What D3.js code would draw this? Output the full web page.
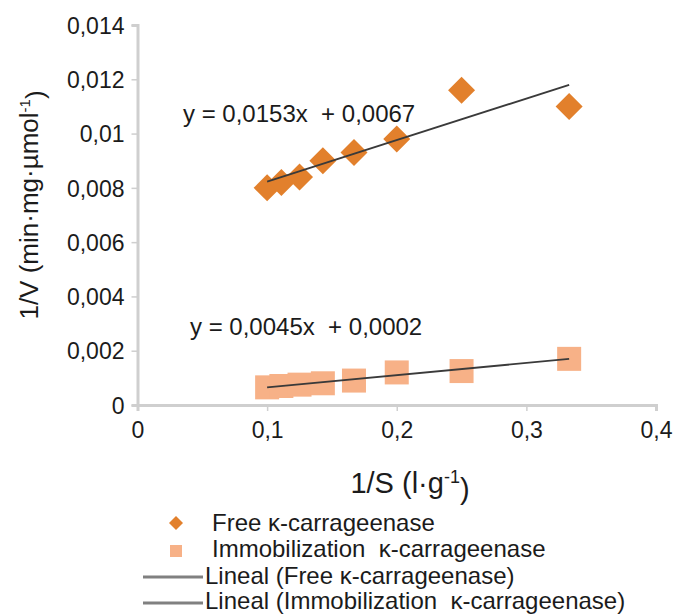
<!DOCTYPE html>
<html>
<head>
<meta charset="utf-8">
<script src="https://cdn.jsdelivr.net/npm/d3@7"></script>
<style>
  html, body { margin: 0; padding: 0; background: #fff; }
  svg { display: block; font-family: "Liberation Sans", Arial, sans-serif; }
</style>
</head>
<body>
<svg id="chart" width="675" height="614"></svg>
<script>
// ---- data ----
const invS = [0.1, 0.111, 0.125, 0.143, 0.167, 0.2, 0.25, 0.333];
const freeInvV = [0.0080, 0.0082, 0.0084, 0.0090, 0.0093, 0.0098, 0.0116, 0.0110];
const immobInvV = [0.00065, 0.0007, 0.00075, 0.0008, 0.0009, 0.0012, 0.00125, 0.0017];
const freeFit = { slope: 0.0153, intercept: 0.0067 };
const immobFit = { slope: 0.0045, intercept: 0.0002 };
const xTicks = [0, 0.1, 0.2, 0.3, 0.4];
const xTickLabels = ["0", "0,1", "0,2", "0,3", "0,4"];
const yTicks = [0, 0.002, 0.004, 0.006, 0.008, 0.01, 0.012, 0.014];
const yTickLabels = ["0", "0,002", "0,004", "0,006", "0,008", "0,01", "0,012", "0,014"];
const equations = ["y = 0,0153x  + 0,0067", "y = 0,0045x  + 0,0002"];
const legendLabels = ["Free \u03BA-carrageenase", "Immobilization  \u03BA-carrageenase",
  "Lineal (Free \u03BA-carrageenase)", "Lineal (Immobilization  \u03BA-carrageenase)"];

// ---- layout ----
const svg = d3.select("#chart");
const x = d3.scaleLinear().domain([0, 0.4]).range([137.5, 656]);
const y = d3.scaleLinear().domain([0, 0.014]).range([405, 25]);
const orange = "#E2802C", salmon = "#F7B187", axisGray = "#CFCFCF", textCol = "#1b1b1b";

// axes
const yAxis = d3.axisLeft(y).tickValues(yTicks).tickFormat((d, i) => yTickLabels[i]).tickSize(6).tickPadding(7);
const xAxis = d3.axisBottom(x).tickValues(xTicks).tickFormat((d, i) => xTickLabels[i]).tickSize(6).tickPadding(10);

const gy = svg.append("g").attr("transform", `translate(${x(0)},0)`).call(yAxis);
const gx = svg.append("g").attr("transform", `translate(0,${y(0)})`).call(xAxis);
[gx, gy].forEach(g => {
  g.select(".domain").attr("stroke", axisGray).attr("stroke-width", 3);
  g.selectAll(".tick line").attr("stroke", axisGray).attr("stroke-width", 1.5);
  g.selectAll(".tick text").attr("fill", textCol).style("font-size", "23px")
    .style("font-family", "'Liberation Sans', Arial, sans-serif");
});
gy.selectAll(".tick text").attr("dy", "0.36em");
gx.selectAll(".tick text").attr("dy", "0.74em");

// axis titles
const yt = svg.append("text")
  .attr("transform", `translate(38,205) rotate(-90)`)
  .attr("text-anchor", "middle").attr("fill", textCol).style("font-size", "26px");
yt.append("tspan").text("1/V (min\u00B7mg\u00B7\u00B5mol");
yt.append("tspan").attr("dy", "-0.55em").style("font-size", "15px").text("-1");
yt.append("tspan").attr("dy", "0.55em").text(")");

const xt = svg.append("text")
  .attr("x", 410).attr("y", 493)
  .attr("text-anchor", "middle").attr("fill", textCol).style("font-size", "29px");
xt.append("tspan").text("1/S (l\u00B7g");
xt.append("tspan").attr("dy", "-0.55em").style("font-size", "18px").text("-1");
xt.append("tspan").attr("dy", "0.55em").text(")");

// markers
const diamondPath = r => `M0,${-r}L${r},0L0,${r}L${-r},0Z`;

svg.append("g").selectAll("rect").data(invS).join("rect")
  .attr("x", (d) => x(d) - 12).attr("y", (d, i) => y(immobInvV[i]) - 12)
  .attr("width", 24).attr("height", 24).attr("fill", salmon);

svg.append("g").selectAll("path").data(invS).join("path")
  .attr("transform", (d, i) => `translate(${x(d)},${y(freeInvV[i])})`)
  .attr("d", diamondPath(13.5)).attr("fill", orange);

// trendlines
const fits = [freeFit, immobFit];
const xMin = d3.min(invS), xMax = d3.max(invS);
svg.append("g").selectAll("line").data(fits).join("line")
  .attr("x1", x(xMin)).attr("x2", x(xMax))
  .attr("y1", f => y(f.slope * xMin + f.intercept))
  .attr("y2", f => y(f.slope * xMax + f.intercept))
  .attr("stroke", "#3a3a3a").attr("stroke-width", 1.8);

// equations
svg.append("text").attr("x", 183).attr("y", 122).attr("fill", textCol)
  .style("font-size", "24px").style("white-space", "pre").text(equations[0]);
svg.append("text").attr("x", 190).attr("y", 335).attr("fill", textCol)
  .style("font-size", "24px").style("white-space", "pre").text(equations[1]);

// legend
const lg = svg.append("g");
const rowsY = [531, 557, 584, 609];
lg.append("path").attr("transform", "translate(176,523)").attr("d", diamondPath(7)).attr("fill", orange);
lg.append("rect").attr("x", 170).attr("y", 545).attr("width", 12).attr("height", 12).attr("fill", salmon);
lg.append("line").attr("x1", 143).attr("x2", 203).attr("y1", 577).attr("y2", 577).attr("stroke", "#808080").attr("stroke-width", 3);
lg.append("line").attr("x1", 143).attr("x2", 203).attr("y1", 603).attr("y2", 603).attr("stroke", "#808080").attr("stroke-width", 3);
lg.selectAll("text").data(legendLabels).join("text")
  .attr("x", (d, i) => i < 2 ? 212 : 205).attr("y", (d, i) => rowsY[i])
  .attr("fill", textCol).style("font-size", "24px").style("white-space", "pre")
  .text(d => d);
</script>
</body>
</html>
